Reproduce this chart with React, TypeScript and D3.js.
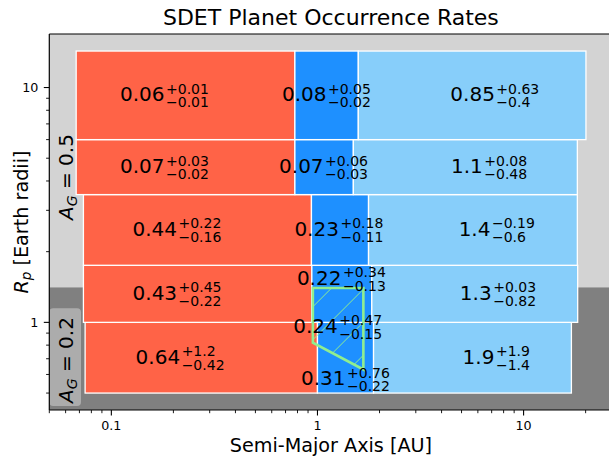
import React from "react";
import * as d3 from "d3";

// ---- data ----
const radiusEdges = [0.5, 1.0, 1.75, 3.5, 6.0, 14.3];
// per radius row (bottom -> top), semi-major axis edges of the three columns
const redStart = [0.0746, 0.0732, 0.0732, 0.0675, 0.0675];
const redEnd = [1.0, 0.939, 0.935, 0.777, 0.777];
const blueEnd = [1.871, 1.835, 1.769, 1.493, 1.578];
const lightEnd = [17.06, 18.3, 18.23, 18.23, 20.07];

const redVal = ["0.64", "0.43", "0.44", "0.07", "0.06"];
const redPlus = ["+1.2", "+0.45", "+0.22", "+0.03", "+0.01"];
const redMinus = ["\u22120.42", "\u22120.22", "\u22120.16", "\u22120.02", "\u22120.01"];
const blueVal = ["0.31", "0.22", "0.23", "0.07", "0.08"];
const bluePlus = ["+0.76", "+0.34", "+0.18", "+0.06", "+0.05"];
const blueMinus = ["\u22120.22", "\u22120.13", "\u22120.11", "\u22120.03", "\u22120.02"];
const lightVal = ["1.9", "1.3", "1.4", "1.1", "0.85"];
const lightPlus = ["+1.9", "+0.03", "\u22120.19", "+0.08", "+0.63"];
const lightMinus = ["\u22121.4", "\u22120.82", "\u22120.6", "\u22120.48", "\u22120.4"];

// label anchor positions (AU, Earth radii)
const redLabelA = [0.2155, 0.2083, 0.208, 0.181, 0.181];
const blueLabelA = [1.367, 1.306, 1.27, 1.07, 1.105];
const blueLabelR = [0.573, 1.532, 2.475, 4.58, 9.26];
const lightLabelA = [7.37, 7.51, 7.41, 6.8, 7.25];

// habitable-zone box
const hzA = [0.95, 1.67, 1.67, 0.95];
const hzR = [1.4, 1.4, 0.63, 0.82];
const hzVal = "0.24";
const hzPlus = "+0.47";
const hzMinus = "\u22120.15";
const hzLabelA = 1.253;
const hzLabelR = 0.956;

const albedoSplitR = 1.41;
const xTickLabels = ["0.1", "1", "10"];
const yTickLabels = ["1", "10"];

const W = 609;
const H = 456;
const L = 49.3, Rr = 612.5, T = 34, B = 410;
const FONT = '"DejaVu Sans", sans-serif';

const RED = "#ff6347";
const BLUE = "#1e90ff";
const LBLUE = "#87cefa";

let ctx: CanvasRenderingContext2D | null = null;
function measure(t: string, px: number) {
  if (!ctx) ctx = document.createElement("canvas").getContext("2d");
  ctx!.font = `${px}px "DejaVu Sans"`;
  return ctx!.measureText(t).width;
}

function MathLabel({ cx, cy, main, sup, sub }: any) {
  const mainW = measure(main, 20);
  const sW = Math.max(measure(sup, 14), measure(sub, 14));
  const total = mainW + 1.5 + sW;
  const x0 = cx - total / 2;
  const xs = x0 + mainW + 1.5;
  return (
    <text fontFamily={FONT} fill="#000" fontSize={20}>
      <tspan x={x0} y={cy + 5.85}>{main}</tspan>
      <tspan x={xs} y={cy - 1.55} fontSize={14}>{sup}</tspan>
      <tspan x={xs} y={cy + 11.85} fontSize={14}>{sub}</tspan>
    </text>
  );
}

export default function App() {
  const x = d3.scaleLog().domain([0.05, 27]).range([L, Rr]);
  const y = d3.scaleLog().domain([0.4235, 16.9]).range([B, T]);

  const xTicks = x.ticks().filter((v) => v >= 0.05 && v <= 27);
  const yTicks = y.ticks().filter((v) => v >= 0.4235 && v <= 16.9);
  const isMajor = (v: number) => Math.abs(Math.log10(v) - Math.round(Math.log10(v))) < 1e-9;

  const rows = radiusEdges.slice(0, -1).map((r0, i) => {
    const r1 = radiusEdges[i + 1];
    return { r0, r1, rc: Math.sqrt(r0 * r1), i };
  });

  const hzPts = hzA.map((a, i) => [x(a), y(hzR[i])]);
  const hzPath = d3.line()(hzPts as any) + "Z";
  const xs = hzPts.map((p) => p[0]);
  const ys = hzPts.map((p) => p[1]);
  const cmin = Math.min(...xs) + Math.min(...ys);
  const cmax = Math.max(...xs) + Math.max(...ys);
  const hatch: number[] = [];
  const spacing = 33;
  for (let c = Math.floor((cmin - 25.6) / spacing) * spacing + 25.6; c <= cmax; c += spacing) hatch.push(c);

  return (
    <svg width={W} height={H} style={{ position: "absolute", left: 0, top: 0, background: "#fff" }}>
      <defs>
        <clipPath id="axclip">
          <rect x={L} y={T} width={Rr - L} height={B - T} />
        </clipPath>
        <clipPath id="hzclip">
          <path d={hzPath} />
        </clipPath>
      </defs>
      <g clipPath="url(#axclip)">
        <rect x={L} y={T} width={Rr - L} height={y(albedoSplitR) - T} fill="#d3d3d3" />
        <rect x={L} y={y(albedoSplitR)} width={Rr - L} height={B - y(albedoSplitR)} fill="#808080" />
        <rect x={L} y={308.3} width={31.7} height={97.7} rx={4} fill="#acacac" />
        {rows.map((r) => {
          const yt = y(r.r1), yb = y(r.r0);
          const cells = [
            [redStart[r.i], redEnd[r.i], RED],
            [redEnd[r.i], blueEnd[r.i], BLUE],
            [blueEnd[r.i], lightEnd[r.i], LBLUE],
          ];
          return cells.map((c, k) => (
            <rect key={`${r.i}-${k}`} x={x(c[0] as number)} y={yt} width={x(c[1] as number) - x(c[0] as number)} height={yb - yt}
              fill={c[2] as string} stroke="#fff" strokeWidth={1.3} />
          ));
        })}
        <g clipPath="url(#hzclip)">
          {hatch.map((c, i) => (
            <line key={i} x1={c - 600} y1={600} x2={c} y2={0} stroke="#90ee90" strokeWidth={1} />
          ))}
        </g>
        <path d={hzPath} fill="none" stroke="#90ee90" strokeWidth={2.6} strokeLinejoin="miter" />
      </g>
      {rows.map((r) => (
        <g key={"lab" + r.i}>
          <MathLabel cx={x(redLabelA[r.i])} cy={y(r.rc)} main={redVal[r.i]} sup={redPlus[r.i]} sub={redMinus[r.i]} />
          <MathLabel cx={x(blueLabelA[r.i])} cy={y(blueLabelR[r.i])} main={blueVal[r.i]} sup={bluePlus[r.i]} sub={blueMinus[r.i]} />
          <MathLabel cx={x(lightLabelA[r.i])} cy={y(r.rc)} main={lightVal[r.i]} sup={lightPlus[r.i]} sub={lightMinus[r.i]} />
        </g>
      ))}
      <MathLabel cx={x(hzLabelA)} cy={y(hzLabelR)} main={hzVal} sup={hzPlus} sub={hzMinus} />

      {/* albedo annotations */}
      <text transform="translate(73.3,177) rotate(-90)" textAnchor="middle" fontFamily={FONT} fontSize={20}>
        <tspan fontStyle="italic">A</tspan>
        <tspan fontStyle="italic" fontSize={14} dy={3.5}>G</tspan>
        <tspan dy={-3.5}> = 0.5</tspan>
      </text>
      <text transform="translate(73.3,360) rotate(-90)" textAnchor="middle" fontFamily={FONT} fontSize={20}>
        <tspan fontStyle="italic">A</tspan>
        <tspan fontStyle="italic" fontSize={14} dy={3.5}>G</tspan>
        <tspan dy={-3.5}> = 0.2</tspan>
      </text>

      {/* spines */}
      <line x1={L} y1={T} x2={L} y2={B} stroke="#000" strokeWidth={1.2} />
      <line x1={L} y1={B} x2={Rr} y2={B} stroke="#000" strokeWidth={1.2} />
      <line x1={L} y1={T} x2={Rr} y2={T} stroke="#000" strokeWidth={1.2} />
      <line x1={Rr} y1={T} x2={Rr} y2={B} stroke="#000" strokeWidth={1.2} />

      {xTicks.map((v, i) => (
        <line key={"xt" + i} x1={x(v)} x2={x(v)} y1={B} y2={B + (isMajor(v) ? 5.5 : 3.2)} stroke="#000" strokeWidth={isMajor(v) ? 1.1 : 0.9} />
      ))}
      {yTicks.map((v, i) => (
        <line key={"yt" + i} y1={y(v)} y2={y(v)} x1={L} x2={L - (isMajor(v) ? 5.5 : 3.2)} stroke="#000" strokeWidth={isMajor(v) ? 1.1 : 0.9} />
      ))}
      {xTicks.filter(isMajor).map((v, i) => (
        <text key={"xl" + i} x={x(v)} y={430.3} textAnchor="middle" fontFamily={FONT} fontSize={12.7}>{xTickLabels[i]}</text>
      ))}
      {yTicks.filter(isMajor).map((v, i) => (
        <text key={"yl" + i} x={38.3} y={y(v) + 4.6} textAnchor="end" fontFamily={FONT} fontSize={12.7}>{yTickLabels[i]}</text>
      ))}

      <text x={(L + Rr) / 2} y={25} textAnchor="middle" fontFamily={FONT} fontSize={22}>SDET Planet Occurrence Rates</text>
      <text x={(L + Rr) / 2} y={451.5} textAnchor="middle" fontFamily={FONT} fontSize={19.2}>Semi-Major Axis [AU]</text>
      <text transform={`translate(27.5,${(T + B) / 2}) rotate(-90)`} textAnchor="middle" fontFamily={FONT} fontSize={19.2}>
        <tspan fontStyle="italic">R</tspan>
        <tspan fontStyle="italic" fontSize={13.4} dy={3.5}>p</tspan>
        <tspan dy={-3.5}> [Earth radii]</tspan>
      </text>
    </svg>
  );
}
